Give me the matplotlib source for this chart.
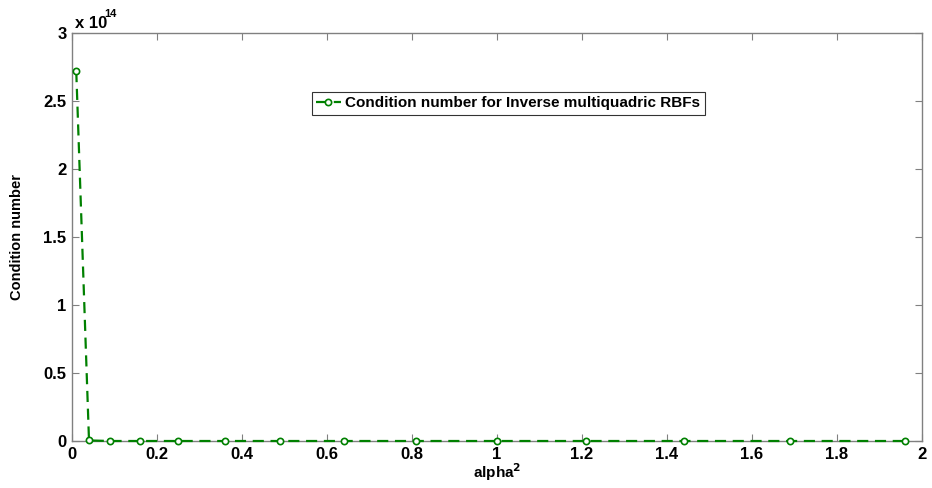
import matplotlib
matplotlib.use('Agg')
import matplotlib.pyplot as plt
import numpy as np

# alpha^2 values and condition numbers
alpha_sq = [0.01, 0.04, 0.09, 0.16, 0.25, 0.36, 0.49, 0.64, 0.81, 1.00, 1.21, 1.44, 1.69, 1.96]
cond_num = [2.72e14, 4.0e11, 6.0e9, 3.0e8, 3.0e7, 5.0e6, 1.2e6, 4.0e5, 1.5e5, 7.0e4, 3.5e4, 2.0e4, 1.2e4, 8.0e3]

x_ticks = [0, 0.2, 0.4, 0.6, 0.8, 1, 1.2, 1.4, 1.6, 1.8, 2]
y_ticks = [0, 0.5e14, 1e14, 1.5e14, 2e14, 2.5e14, 3e14]
y_labels = ['0', '0.5', '1', '1.5', '2', '2.5', '3']

plt.rcParams['font.family'] = ['Liberation Sans', 'DejaVu Sans']
plt.rcParams['font.weight'] = 'bold'

fig = plt.figure(figsize=(9.32, 4.88), dpi=100)
ax = fig.add_axes([72 / 932, 1 - 441 / 488, 850 / 932, 408 / 488])

ax.plot(alpha_sq, cond_num, '--o', color='#008000', linewidth=1.6,
        markersize=4.5, markerfacecolor='white', markeredgewidth=1.2,
        dashes=(5, 3), clip_on=False, zorder=5,
        label='Condition number for Inverse multiquadric RBFs')

ax.set_xlim(0, 2)
ax.set_ylim(0, 3e14)
ax.set_xticks(x_ticks)
ax.set_xticklabels([f'{t:g}' for t in x_ticks])
ax.set_yticks(y_ticks)
ax.set_yticklabels(y_labels)
ax.tick_params(direction='in', top=True, right=True, length=5, width=0.8,
               colors='#808080', labelcolor='black', labelsize=12, pad=4)
for sp in ax.spines.values():
    sp.set_color('#808080')
    sp.set_linewidth(1.0)

# MATLAB style exponent above the y axis
ax.text(0.003, 1.005, 'x 10', transform=ax.transAxes, fontsize=12,
        fontweight='bold', va='bottom', ha='left')
ax.text(0.038, 1.035, '14', transform=ax.transAxes, fontsize=8,
        fontweight='bold', va='bottom', ha='left')

ax.set_xlabel(r'alpha$^{\mathbf{2}}$', fontsize=11, fontweight='bold', labelpad=0)
ax.set_ylabel('Condition number', fontsize=10.5, fontweight='bold')
ax.yaxis.set_label_coords(-0.057, 0.5)

leg = ax.legend(loc='upper left', bbox_to_anchor=(0.273, 0.875), fontsize=11,
                frameon=True, fancybox=False, handlelength=1.6,
                borderpad=0.3, handletextpad=0.3)
leg.get_frame().set_edgecolor('black')
leg.get_frame().set_linewidth(0.8)
for t in leg.get_texts():
    t.set_fontweight('bold')

plt.savefig('out.png', dpi=100, facecolor='white')
plt.close()
